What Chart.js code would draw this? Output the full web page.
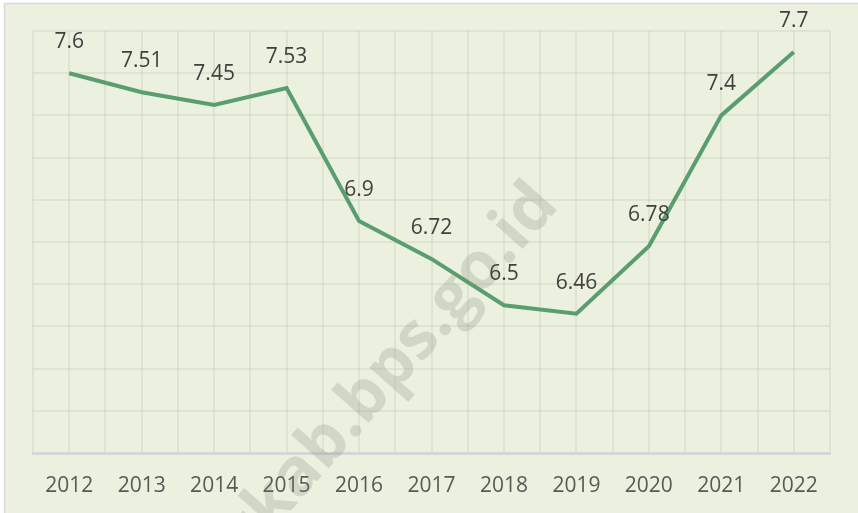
<!DOCTYPE html>
<html>
<head>
<meta charset="utf-8">
<script src="https://cdn.jsdelivr.net/npm/chart.js@4/dist/chart.umd.min.js"></script>
<style>
html,body{margin:0;padding:0;background:#fff;}
#wrap{width:858px;height:513px;position:relative;}
</style>
</head>
<body>
<div id="wrap"><canvas id="c" width="858" height="513"></canvas></div>
<script>
const years = ["2012","2013","2014","2015","2016","2017","2018","2019","2020","2021","2022"];
const values = [7.6, 7.51, 7.45, 7.53, 6.9, 6.72, 6.5, 6.46, 6.78, 7.4, 7.7];
const valueLabels = ["7.6","7.51","7.45","7.53","6.9","6.72","6.5","6.46","6.78","7.4","7.7"];
const watermarkText = "utkab.bps.go.id";

const FONT = "'Open Sans', 'Liberation Sans', sans-serif";

const bgPlugin = {
  id: 'bg',
  beforeDraw(chart) {
    const ctx = chart.ctx;
    ctx.save();
    ctx.fillStyle = '#ffffff';
    ctx.fillRect(0, 0, chart.width, chart.height);
    ctx.fillStyle = '#ebf1de';
    ctx.fillRect(4, 3, chart.width - 4, chart.height - 3);
    ctx.strokeStyle = '#d9d9d9';
    ctx.lineWidth = 1.5;
    ctx.beginPath();
    ctx.moveTo(4.5, chart.height);
    ctx.lineTo(4.5, 3.5);
    ctx.lineTo(chart.width, 3.5);
    ctx.stroke();
    ctx.restore();
  }
};

const watermarkPlugin = {
  id: 'wm',
  beforeDatasetsDraw(chart) {
    const ctx = chart.ctx;
    ctx.save();
    ctx.translate(378, 384);
    ctx.rotate(-48.5 * Math.PI / 180);
    ctx.font = "bold 66px " + FONT;
    ctx.fillStyle = 'rgba(120,125,115,0.22)';
    ctx.textAlign = 'center';
    ctx.textBaseline = 'middle';
    ctx.fillText(watermarkText, 0, 0);
    ctx.restore();
  }
};

const labelPlugin = {
  id: 'vlabels',
  afterDatasetsDraw(chart) {
    const ctx = chart.ctx;
    const meta = chart.getDatasetMeta(0);
    ctx.save();
    ctx.font = "21px " + FONT;
    ctx.fillStyle = '#404040';
    ctx.textAlign = 'center';
    ctx.textBaseline = 'middle';
    meta.data.forEach((pt, i) => {
      ctx.fillText(valueLabels[i], pt.x, pt.y - 31);
    });
    ctx.restore();
  }
};

new Chart(document.getElementById('c'), {
  type: 'line',
  data: {
    labels: years,
    datasets: [{
      data: values,
      borderColor: '#5a9e6f',
      borderWidth: 4,
      pointRadius: 0,
      tension: 0,
      fill: false,
      borderJoinStyle: 'miter'
    }]
  },
  options: {
    responsive: false,
    animation: false,
    events: [],
    layout: { padding: { left: 33, right: 28, top: 31, bottom: 10 } },
    plugins: { legend: { display: false }, tooltip: { enabled: false } },
    scales: {
      x: {
        offset: true,
        grid: { offset: true, color: 'rgba(0,0,0,0.05)', lineWidth: 2, drawTicks: false },
        border: { display: true, color: '#d6d6d6', width: 3 },
        ticks: { color: '#595959', font: { family: FONT, size: 21 }, padding: 20, maxRotation: 0, autoSkip: false },
        afterFit(s) { s.height = 50; }
      },
      x2: {
        type: 'category',
        labels: years,
        position: 'bottom',
        offset: true,
        grid: { offset: false, color: 'rgba(0,0,0,0.05)', lineWidth: 2, drawTicks: false },
        border: { display: false },
        ticks: { display: false },
        afterFit(s) { s.height = 0; }
      },
      y: {
        min: 5.8,
        max: 7.8,
        ticks: { stepSize: 0.2, display: false },
        grid: { color: 'rgba(0,0,0,0.05)', lineWidth: 2, drawTicks: false },
        border: { display: false },
        afterFit(s) { s.width = 0; }
      }
    }
  },
  plugins: [bgPlugin, watermarkPlugin, labelPlugin]
});
</script>
</body>
</html>
